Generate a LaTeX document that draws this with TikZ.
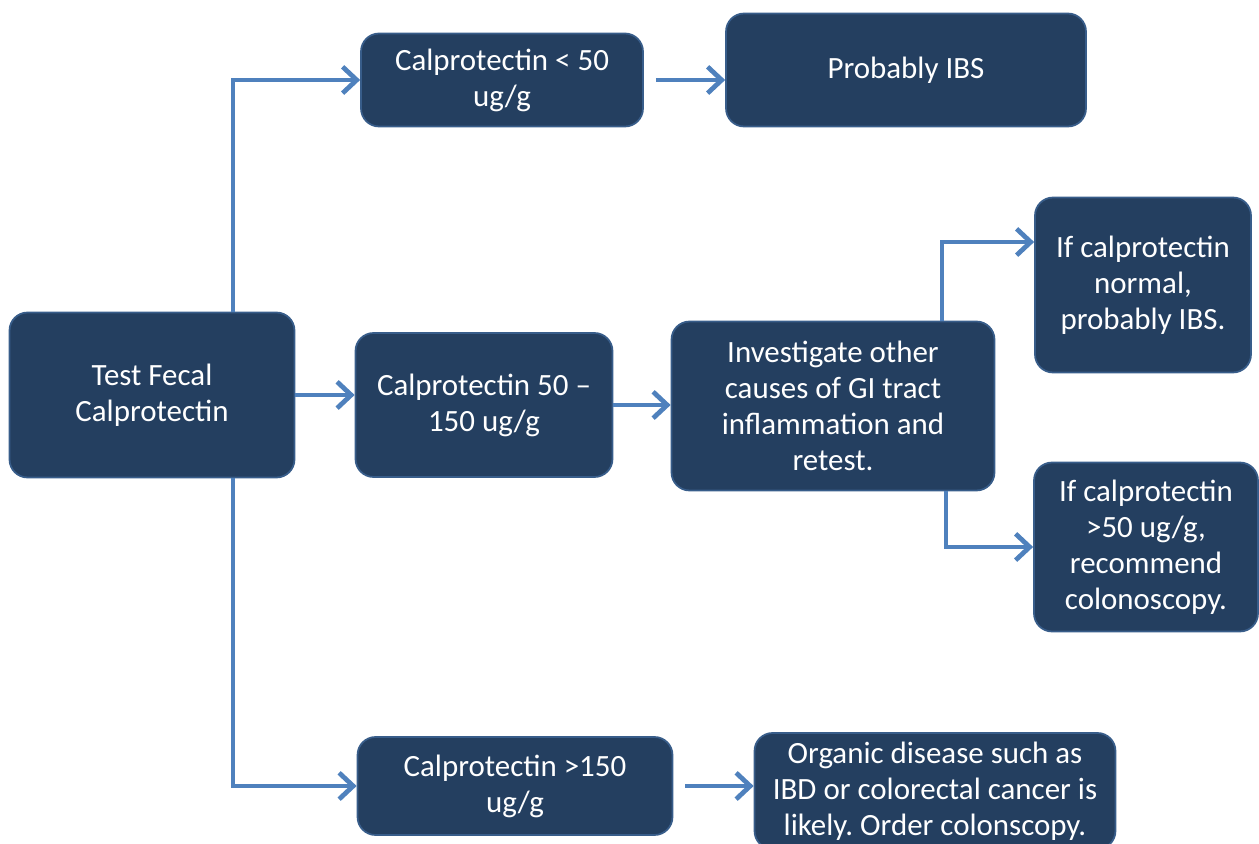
\documentclass[tikz,border=0pt]{standalone}
\usepackage{fontspec}
\setmainfont{Carlito}
\usetikzlibrary{arrows.meta}
\definecolor{boxfill}{HTML}{243F60}
\definecolor{boxline}{HTML}{385D8A}
\definecolor{arrowblue}{HTML}{4F81BD}
\frenchspacing

\begin{document}
\begin{tikzpicture}[x=0.02cm,y=-0.02cm,
  stepbox/.style={draw=boxline,line width=1pt,fill=boxfill,rounded corners=0.36cm,
    text=white,align=center,inner sep=0pt,font=\fontsize{17.6}{20.5}\selectfont},
  arr/.style={arrowblue,line width=2.7pt,-{Straight Barb[length=8pt,width=15pt,line width=2.7pt]}}]
  \useasboundingbox (0,0) rectangle (1259,844);
  \node[stepbox,minimum width=5.7cm,minimum height=3.3cm] (test) at (152,395) {Test Fecal\\Calprotectin};
  \node[stepbox,minimum width=5.64cm,minimum height=1.86cm] (low) at (502,80) {Calprotectin < 50\\ug/g};
  \node[stepbox,minimum width=7.2cm,minimum height=2.26cm] (ibs) at (906,70) {Probably IBS};
  \node[stepbox,minimum width=5.14cm,minimum height=2.88cm] (mid) at (484,405) {Calprotectin 50 –\\150 ug/g};
  \node[stepbox,minimum width=6.46cm,minimum height=3.38cm] (inv) at (833,406) {Investigate other\\causes of GI tract\\inflammation and\\retest.};
  \node[stepbox,minimum width=4.32cm,minimum height=3.5cm] (normal) at (1143,285) {If calprotectin\\normal,\\probably IBS.};
  \node[stepbox,minimum width=4.48cm,minimum height=3.38cm] (high) at (1146,547) {If calprotectin\\>50 ug/g,\\recommend\\colonoscopy.};
  \node[stepbox,minimum width=6.3cm,minimum height=1.96cm] (hi) at (515,786) {Calprotectin >150\\ug/g};
  \node[stepbox,minimum width=7.22cm,minimum height=2.32cm] (org) at (935,791) {Organic disease such as\\IBD or colorectal cancer is\\likely. Order colonscopy.};
  % connectors
  \draw[arr] ([xshift=1.62cm]test.north) |- (low.west);
  \draw[arr] (test.east) -- (test.east -| mid.west);
  \draw[arr] ([xshift=1.62cm]test.south) |- (hi.west);
  \draw[arr] ([xshift=0.24cm]low.east) -- (low.east -| ibs.west);
  \draw[arr] (mid.east) -- (mid.east -| inv.west);
  \draw[arr] ([xshift=2.18cm]inv.north) |- ([yshift=0.86cm]normal.west);
  \draw[arr] ([xshift=2.26cm]inv.south) |- (high.west);
  \draw[arr] ([xshift=0.24cm]hi.east) -- (hi.east -| org.west);
\end{tikzpicture}
\end{document}
